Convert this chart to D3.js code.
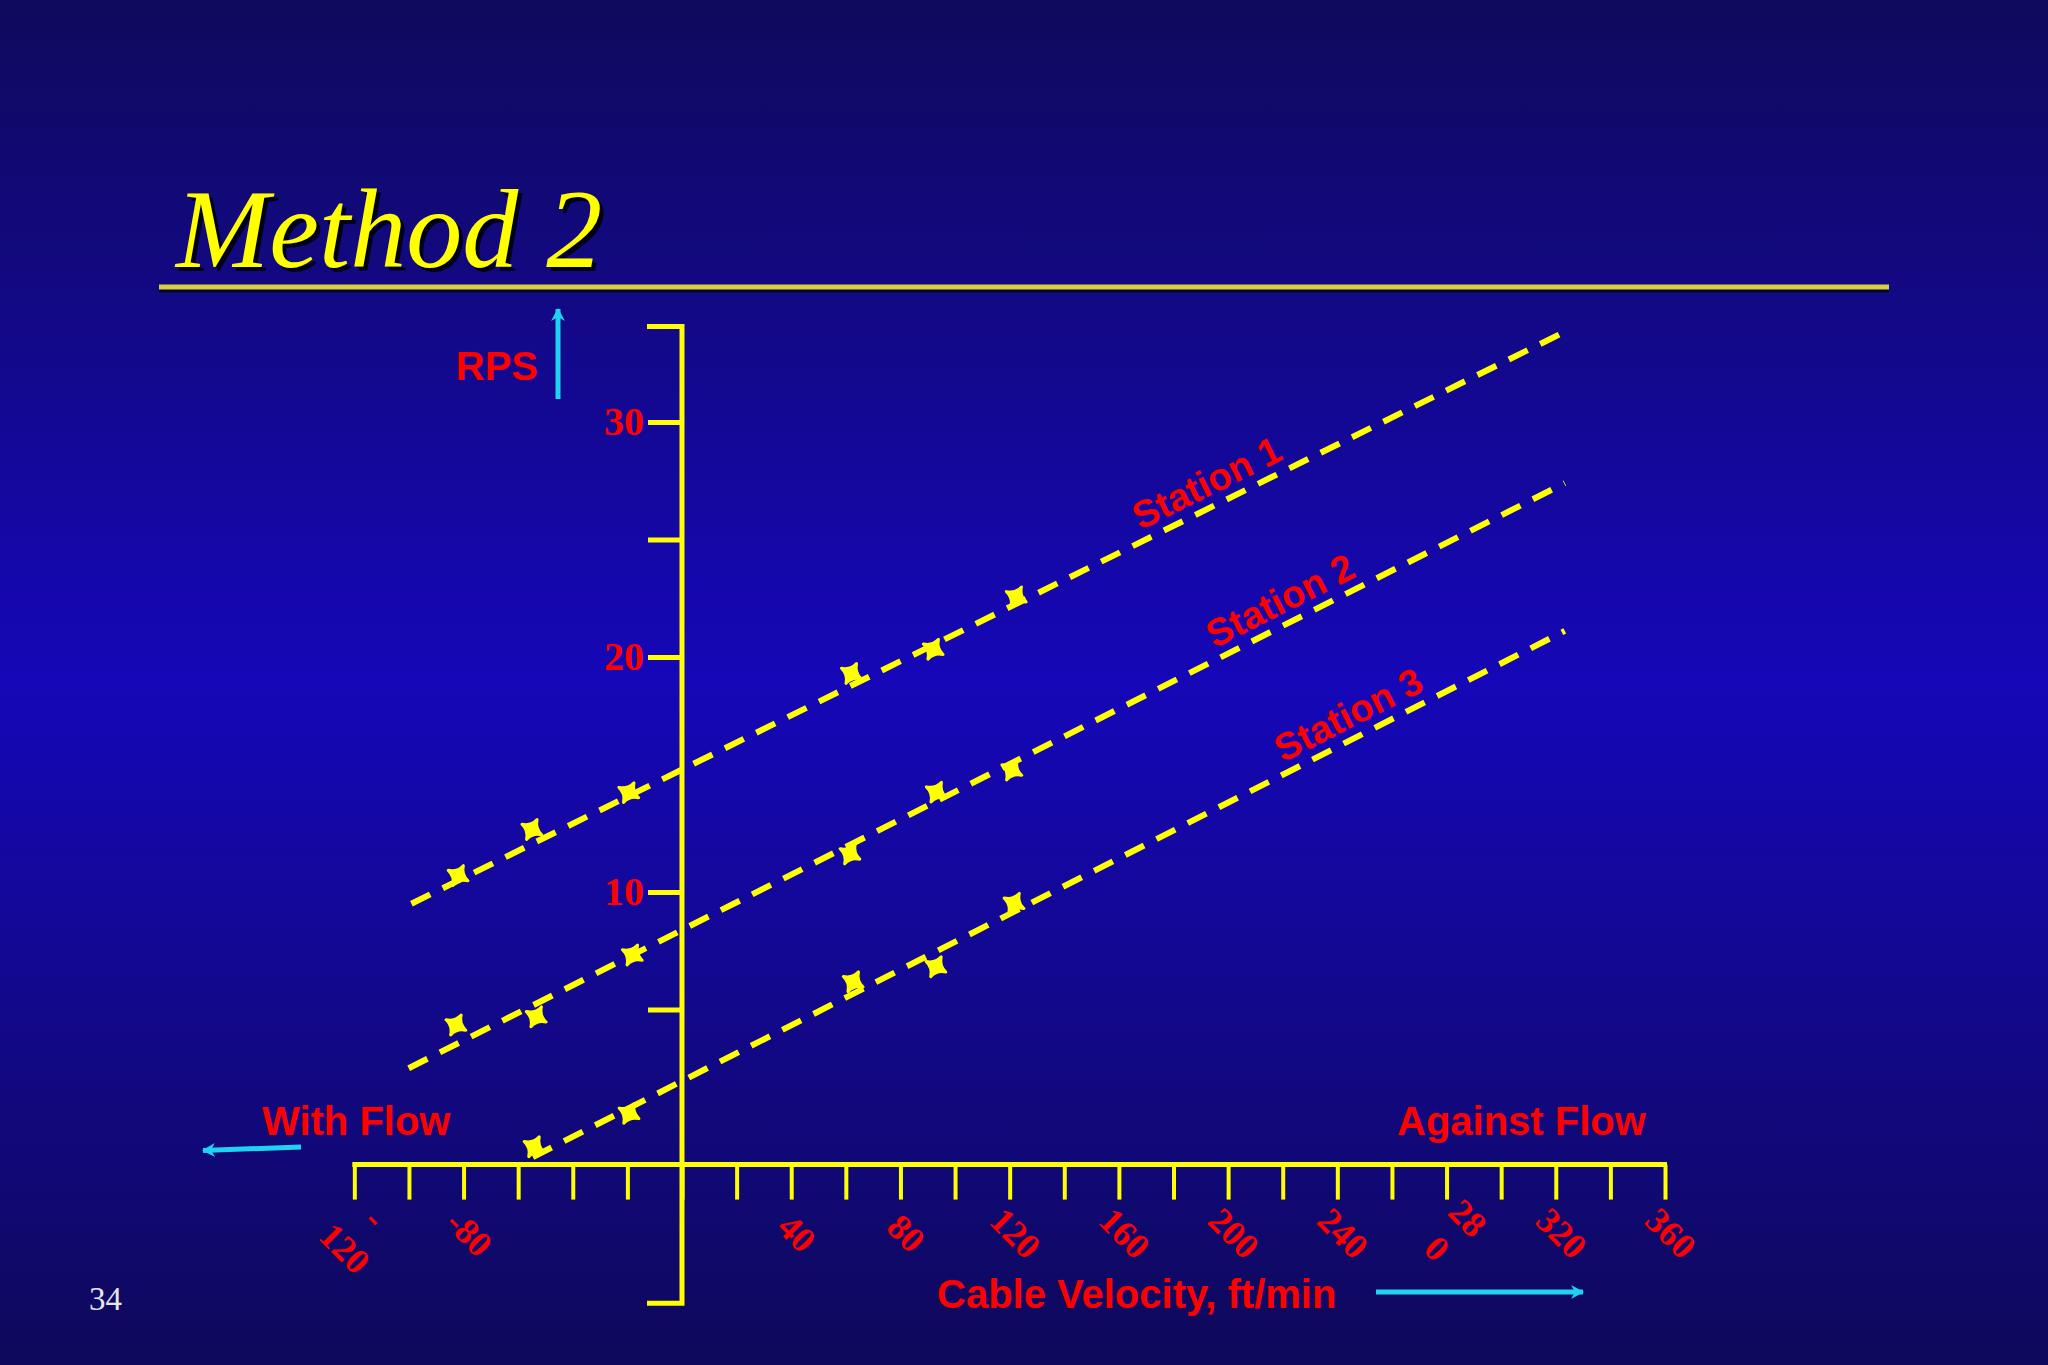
<!DOCTYPE html>
<html>
<head>
<meta charset="utf-8">
<script src="https://cdn.jsdelivr.net/npm/d3@7"></script>
<style>
  body { margin: 0; background: #0f0a5e; }
  svg { display: block; }
</style>
</head>
<body>
<svg id="chart"></svg>
<script>
// RPS against cable velocity (ft/min) for each station
const stations = ["Station 1", "Station 2", "Station 3"];
const velocity1 = [-82, -55, -19.5, 62, 92, 122.4];
const rps1 = [10.7, 12.66, 14.23, 19.3, 20.33, 22.56];
const velocity2 = [-82.8, -53.4, -18.2, 61.5, 93.1, 120.8];
const rps2 = [4.34, 4.69, 7.32, 11.62, 14.25, 15.19];
const velocity3 = [-54.2, -19.4, 62.7, 93, 121.6];
const rps3 = [-0.84, 0.58, 6.18, 6.82, 9.52];

// dashed fit lines, [velocity, rps] at each end
const fit1 = [[-99.1, 9.5], [323.3, 33.84]];
const fit2 = [[-100.1, 2.5], [323.3, 27.4]];
const fit3 = [[-54.6, -1.28], [323.3, 21.11]];
const labelVelocity = [196, 223, 248];

// axes
const xTickValues = d3.range(-120, 361, 20);
const xLabelValues = [-120, -80, 40, 80, 120, 160, 200, 240, 280, 320, 360];
const xLabelLines = [["-", "120"], ["-80"], ["40"], ["80"], ["120"], ["160"], ["200"], ["240"], ["28", "0"], ["320"], ["360"]];
const yTickValues = [5, 10, 20, 25, 30];
const yLabelValues = [10, 20, 30];
const yAxisTop = 34.06, yAxisBottom = -7.5, xAxisAt = -1.6;

const W = 2048, H = 1365;
const yellow = "#ffff00", red = "#ff0000", cyan = "#20d2f2";
const sans = "'Liberation Sans', Arial, sans-serif";
const serif = "'Liberation Serif', 'Times New Roman', serif";

const svg = d3.select("#chart").attr("width", W).attr("height", H);
const defs = svg.append("defs");

let grad = defs.append("linearGradient")
    .attr("id", "bg").attr("x1", 0).attr("y1", 0).attr("x2", 0).attr("y2", 1);
grad.append("stop").attr("offset", "0%").attr("stop-color", "#0f0a5c");
grad.append("stop").attr("offset", "50%").attr("stop-color", "#1607b8");
grad.append("stop").attr("offset", "100%").attr("stop-color", "#0e095a");

defs.append("marker")
    .attr("id", "arrow")
    .attr("viewBox", "-13 -8 15 16")
    .attr("refX", 0).attr("refY", 0)
    .attr("markerWidth", 15).attr("markerHeight", 16)
    .attr("markerUnits", "userSpaceOnUse")
    .attr("orient", "auto")
    .append("path")
    .attr("d", "M-12,-7 L1,0 L-12,7 L-8,0 Z")
    .attr("fill", cyan);

svg.append("rect").attr("width", W).attr("height", H).attr("fill", "url(#bg)");

// title with drop shadow and rule
svg.append("text")
    .attr("x", 180).attr("y", 271)
    .attr("font-family", serif).attr("font-style", "italic").attr("font-size", 112)
    .attr("fill", "#000010").attr("opacity", 0.9)
    .text("Method 2");
svg.append("text")
    .attr("x", 176).attr("y", 267)
    .attr("font-family", serif).attr("font-style", "italic").attr("font-size", 112)
    .attr("fill", yellow)
    .text("Method 2");
svg.append("line")
    .attr("x1", 159).attr("x2", 1889).attr("y1", 290.5).attr("y2", 290.5)
    .attr("stroke", "#05052a").attr("stroke-width", 4);
svg.append("line")
    .attr("x1", 159).attr("x2", 1889).attr("y1", 287).attr("y2", 287)
    .attr("stroke", "#d8cf42").attr("stroke-width", 5);

svg.append("text")
    .attr("x", 89).attr("y", 1310)
    .attr("font-family", serif).attr("font-size", 33)
    .attr("fill", "#e6e6e6")
    .text("34");

let x = d3.scaleLinear().domain([0, 360]).range([682, 1665]);
let y = d3.scaleLinear().domain([0, 30]).range([1127, 422]);

// velocity axis: line across the full tick range, ticks hanging below
let xAxis = svg.append("g")
    .attr("transform", "translate(0," + y(xAxisAt) + ")")
    .call(d3.axisBottom(x).tickValues(xTickValues).tickSize(35).tickSizeOuter(0).tickFormat(""));
xAxis.select(".domain").remove();
xAxis.selectAll(".tick line").attr("stroke", yellow).attr("stroke-width", 4);
xAxis.append("line")
    .attr("x1", x(xTickValues[0]) - 2)
    .attr("x2", x(xTickValues[xTickValues.length - 1]) + 2)
    .attr("stroke", yellow).attr("stroke-width", 5);

let xLabels = svg.append("g").selectAll("g")
    .data(xLabelValues)
    .join("g")
    .attr("transform", d => "translate(" + (x(d) + 6) + ",1233) rotate(45)");
xLabels.append("text")
    .attr("text-anchor", "middle")
    .attr("font-family", serif).attr("font-weight", "bold").attr("font-size", 36)
    .attr("fill", red)
    .each(function (d, i) {
        let lines = xLabelLines[i];
        d3.select(this).selectAll("tspan")
            .data(lines)
            .join("tspan")
            .attr("x", 0)
            .attr("dy", (t, j) => j === 0 ? (0.35 - (lines.length - 1) * 0.6) + "em" : "1.2em")
            .text(t => t);
    });

// RPS axis, with short brackets at both ends
let yAxis = svg.append("g")
    .attr("transform", "translate(" + x(0) + ",0)")
    .call(d3.axisLeft(y).tickValues(yTickValues).tickSize(34).tickPadding(4)
        .tickFormat(d => yLabelValues.includes(d) ? d : ""));
yAxis.select(".domain").remove();
yAxis.selectAll(".tick line").attr("stroke", yellow).attr("stroke-width", 5);
yAxis.selectAll(".tick text")
    .attr("font-family", serif).attr("font-weight", "bold").attr("font-size", 40)
    .attr("fill", red);

svg.append("path")
    .attr("d", d3.line()([
        [x(0) - 35, y(yAxisTop)], [x(0), y(yAxisTop)],
        [x(0), y(yAxisBottom)], [x(0) - 35, y(yAxisBottom)]
    ]))
    .attr("fill", "none")
    .attr("stroke", yellow).attr("stroke-width", 5);

// axis captions and direction arrows
const caption = (tx, ty, anchor, s) => svg.append("text")
    .attr("x", tx).attr("y", ty).attr("text-anchor", anchor)
    .attr("font-family", sans).attr("font-weight", "bold").attr("font-size", 40)
    .attr("fill", red).text(s);
caption(538, 380, "end", "RPS");
caption(262, 1135, "start", "With Flow");
caption(1397, 1135, "start", "Against Flow");
caption(937, 1308, "start", "Cable Velocity, ft/min");

const arrow = (x1, y1, x2, y2) => svg.append("line")
    .attr("x1", x1).attr("y1", y1).attr("x2", x2).attr("y2", y2)
    .attr("stroke", cyan).attr("stroke-width", 5)
    .attr("marker-end", "url(#arrow)");
arrow(558, 399, 558, 309);
arrow(301, 1147, 203, 1150.5);
arrow(1376, 1292, 1583, 1292);

// fit lines
let fits = [fit1, fit2, fit3];
let line = d3.line().x(d => x(d[0])).y(d => y(d[1]));
svg.append("g").selectAll("path")
    .data(fits)
    .join("path")
    .attr("d", line)
    .attr("fill", "none")
    .attr("stroke", yellow)
    .attr("stroke-width", 6)
    .attr("stroke-dasharray", "21,14");

// station labels along each line
fits.forEach((f, i) => {
    let angle = Math.atan2(y(f[1][1]) - y(f[0][1]), x(f[1][0]) - x(f[0][0])) * 180 / Math.PI;
    let t = (labelVelocity[i] - f[0][0]) / (f[1][0] - f[0][0]);
    let rps = f[0][1] + t * (f[1][1] - f[0][1]);
    svg.append("text")
        .attr("transform", "translate(" + x(labelVelocity[i]) + "," + y(rps) + ") rotate(" + angle + ")")
        .attr("y", -24)
        .attr("dy", "0.35em")
        .attr("text-anchor", "middle")
        .attr("font-family", sans).attr("font-weight", "bold").attr("font-size", 38)
        .attr("fill", red)
        .text(stations[i]);
});

// four-armed cross markers
const star4 = {
    draw(ctx, size) {
        let r = Math.sqrt(size) / 2, k = r * 0.3;
        ctx.moveTo(r, 0);
        for (let i = 0; i < 4; i++) {
            let a = i * Math.PI / 2, b = a + Math.PI / 4, c = a + Math.PI / 2;
            ctx.quadraticCurveTo(k * Math.cos(b), k * Math.sin(b), r * Math.cos(c), r * Math.sin(c));
        }
        ctx.closePath();
    }
};
let points = [];
[[velocity1, rps1], [velocity2, rps2], [velocity3, rps3]].forEach(s => {
    s[0].forEach((v, i) => points.push({ v: v, r: s[1][i] }));
});
svg.append("g").selectAll("path")
    .data(points)
    .join("path")
    .attr("transform", d => "translate(" + x(d.v) + "," + y(d.r) + ") rotate(28)")
    .attr("d", d3.symbol().type(star4).size(500))
    .attr("fill", yellow)
    .attr("stroke", yellow)
    .attr("stroke-width", 3)
    .attr("stroke-linejoin", "round");
</script>
</body>
</html>
